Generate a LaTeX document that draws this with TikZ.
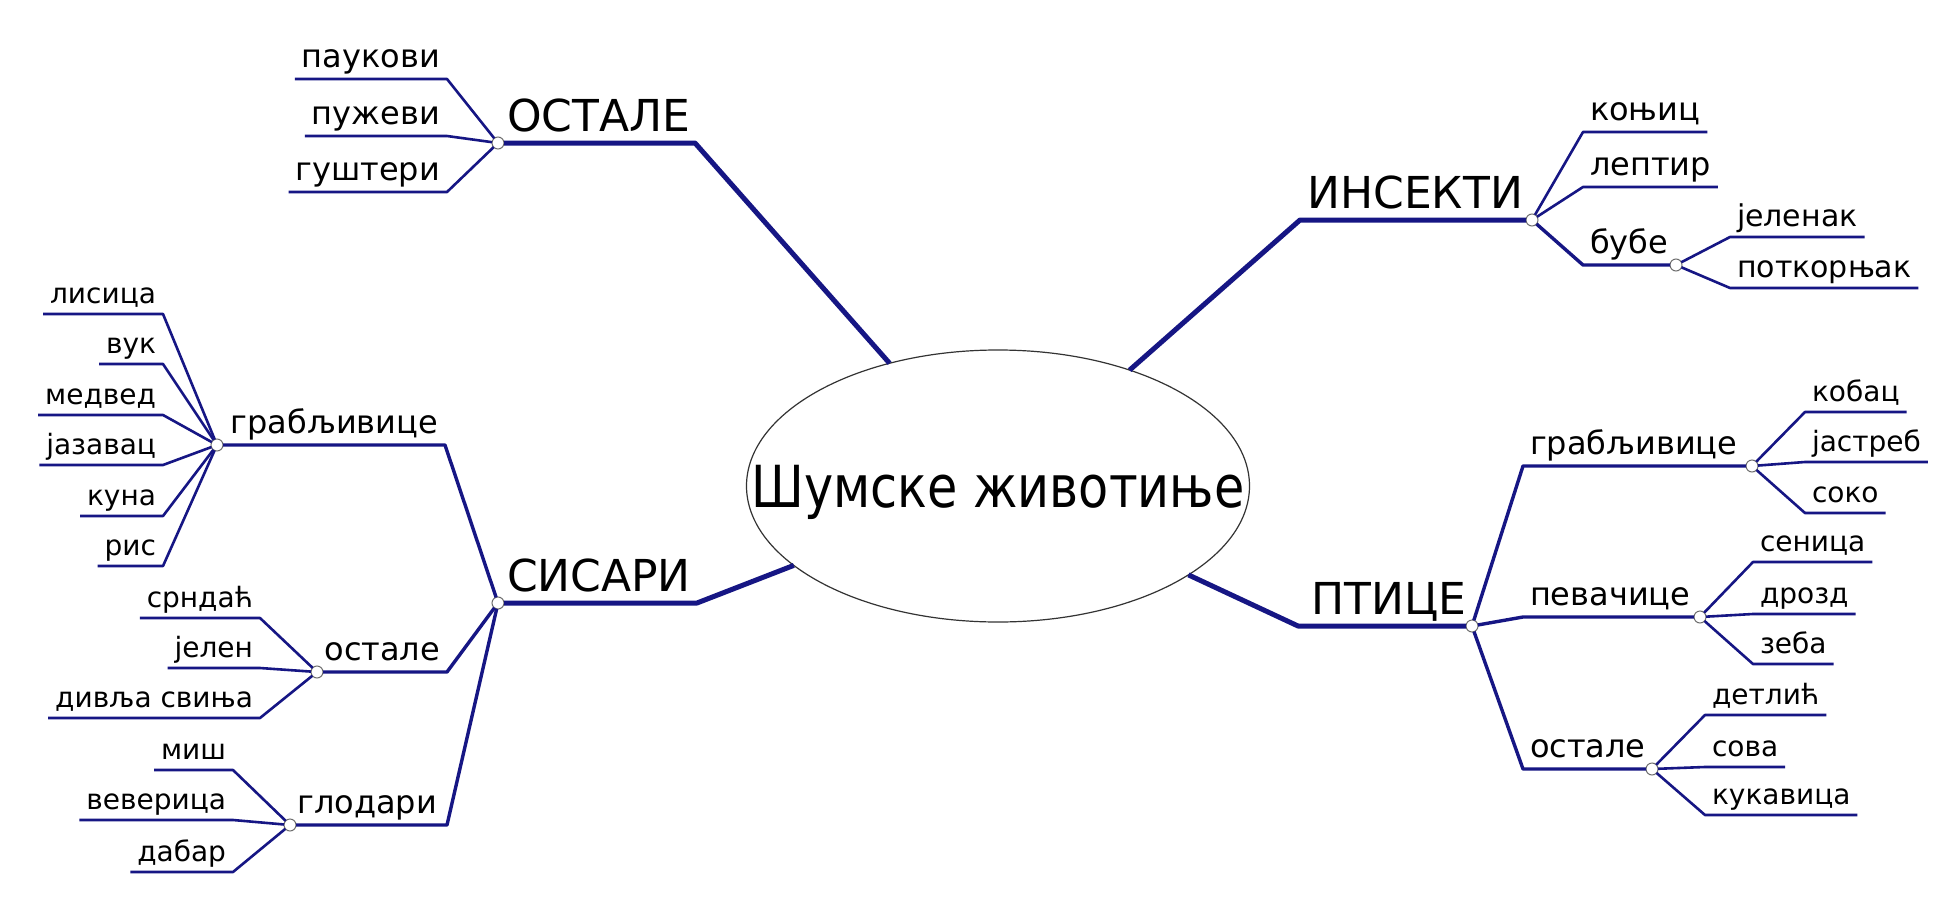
\documentclass[tikz,border=0pt]{standalone}
\usepackage{graphicx}
\usepackage{fontspec}
\setmainfont{DejaVu Sans}
\usetikzlibrary{shapes.geometric}
\definecolor{brnavy}{RGB}{22,22,132}
\definecolor{jgray}{RGB}{110,110,110}
\begin{document}
\begin{tikzpicture}[x=1pt,y=-1pt,
  mainline/.style={draw=brnavy, line width=5pt, line join=round},
  subline/.style={draw=brnavy, line width=3.4pt, line join=round},
  leafline/.style={draw=brnavy, line width=2.6pt, line join=round},
  lbl/.style={inner xsep=7pt, inner ysep=0pt, outer sep=0pt, text depth=12pt, font=\fontsize{32}{36}\selectfont},
  smlbl/.style={lbl, text depth=10.5pt, font=\fontsize{28}{32}\selectfont},
  biglbl/.style={lbl, inner xsep=9pt, font=\fontsize{44}{50}\selectfont},
  junction/.style={circle, draw=jgray, fill=white, line width=1pt, minimum size=12pt, inner sep=0pt, outer sep=0pt},
  hub/.style={ellipse, draw=black!80, fill=white, line width=1.2pt, minimum width=503pt, minimum height=272pt, inner sep=0pt, outer sep=0pt},
  hubtext/.style={inner sep=0pt, text depth=0pt}]
\fill[white] (0,0) rectangle (1960,907);
\useasboundingbox (0,0) rectangle (1960,907);

% central node
\node[hub] (hub) at (998,486) {};
\node[hubtext] (title) at (hub.center) {\scalebox{0.85}[1]{\fontsize{58}{60}\selectfont Шумске животиње}};

% corners and junctions
\coordinate (O1) at (695,143);
\node[junction] (Oc) at (498,143) {};
\coordinate (S1) at (697,603);
\node[junction] (Sc) at (498,603) {};
\coordinate (I1) at (1300,220);
\node[junction] (Ic) at (1532,220) {};
\coordinate (P1) at (1298,626);
\node[junction] (Pc) at (1472,626) {};

\coordinate (g1) at (445,445);
\node[junction] (gc) at (217,445) {};
\coordinate (o1) at (447,672);
\node[junction] (oc) at (317,672) {};
\coordinate (d1) at (447,825);
\node[junction] (dc) at (290,825) {};
\coordinate (b1) at (1583,265);
\node[junction] (bc) at (1676,265) {};
\coordinate (p1) at (1523,466);
\node[junction] (pgc) at (1752,466) {};
\coordinate (p2) at (1523,617);
\node[junction] (pvc) at (1700,617) {};
\coordinate (p3) at (1523,769);
\node[junction] (poc) at (1652,769) {};

% main labels
\node[biglbl, anchor=south west] (ostale) at (Oc) {ОСТАЛЕ};
\node[biglbl, anchor=south west] (sisari) at (Sc) {СИСАРИ};
\node[biglbl, anchor=south east] (insekti) at (Ic) {ИНСЕКТИ};
\node[biglbl, anchor=south east, inner xsep=6pt] (ptice) at (Pc) {ПТИЦЕ};

% sub labels
\node[lbl, anchor=south east] (grabL) at (g1) {грабљивице};
\node[lbl, anchor=south east] (ostL) at (o1) {остале};
\node[lbl, anchor=south east, inner xsep=10pt] (glod) at (d1) {глодари};
\node[lbl, anchor=south west] (bube) at (b1) {бубе};
\node[lbl, anchor=south west] (grabR) at (p1) {грабљивице};
\node[lbl, anchor=south west] (pev) at (p2) {певачице};
\node[lbl, anchor=south west] (ostR) at (p3) {остале};

% leaves, left side
\node[lbl, anchor=south east] (l1) at (447,79) {паукови};
\node[lbl, anchor=south east] (l2) at (447,136) {пужеви};
\node[lbl, anchor=south east] (l3) at (447,192) {гуштери};

\node[smlbl, anchor=south east] (g2) at (163,314) {лисица};
\node[smlbl, anchor=south east] (g3) at (163,364) {вук};
\node[smlbl, anchor=south east] (g4) at (163,415) {медвед};
\node[smlbl, anchor=south east] (g5) at (163,465) {јазавац};
\node[smlbl, anchor=south east] (g6) at (163,516) {куна};
\node[smlbl, anchor=south east] (g7) at (163,566) {рис};

\node[smlbl, anchor=south east] (o2) at (260,618) {срндаћ};
\node[smlbl, anchor=south east] (o3) at (260,668) {јелен};
\node[smlbl, anchor=south east] (o4) at (260,718) {дивља свиња};

\node[smlbl, anchor=south east] (d2) at (233,770) {миш};
\node[smlbl, anchor=south east] (d3) at (233,820) {веверица};
\node[smlbl, anchor=south east] (d4) at (233,872) {дабар};

% leaves, right side
\node[lbl, anchor=south west] (i2) at (1583,132) {коњиц};
\node[lbl, anchor=south west] (i3) at (1583,187) {лептир};
\node[smlbl, anchor=south west, font=\fontsize{30}{34}\selectfont] (b2) at (1730,237) {јеленак};
\node[smlbl, anchor=south west, font=\fontsize{30}{34}\selectfont] (b3) at (1730,288) {поткорњак};

\node[smlbl, anchor=south west] (r1) at (1805,412) {кобац};
\node[smlbl, anchor=south west] (r2) at (1805,462) {јастреб};
\node[smlbl, anchor=south west] (r3) at (1805,513) {соко};

\node[smlbl, anchor=south west] (v1) at (1753,562) {сеница};
\node[smlbl, anchor=south west] (v2) at (1753,614) {дрозд};
\node[smlbl, anchor=south west] (v3) at (1753,664) {зеба};

\node[smlbl, anchor=south west] (t1) at (1705,715) {детлић};
\node[smlbl, anchor=south west] (t2) at (1705,767) {сова};
\node[smlbl, anchor=south west] (t3) at (1705,815) {кукавица};

% main branches
\draw[mainline] (Oc) -- (O1) -- (hub);
\draw[mainline] (Sc) -- (S1) -- (hub);
\draw[mainline] (Ic) -- (I1) -- (hub);
\draw[mainline] (Pc) -- (P1) -- (hub);

% sub branches
\draw[subline] (gc) -- (g1) -- (Sc);
\draw[subline] (oc) -- (o1) -- (Sc);
\draw[subline] (dc) -- (d1) -- (Sc);
\draw[subline] (Ic) -- (b1) -- (bc);
\draw[subline] (Pc) -- (p1) -- (pgc);
\draw[subline] (Pc) -- (p2) -- (pvc);
\draw[subline] (Pc) -- (p3) -- (poc);

% leaf lines, left
\foreach \n/\j in {l1/Oc,l2/Oc,l3/Oc,g2/gc,g3/gc,g4/gc,g5/gc,g6/gc,g7/gc,o2/oc,o3/oc,o4/oc,d2/dc,d3/dc,d4/dc}
  \draw[leafline] (\n.south west) -- (\n.south east) -- (\j);
% leaf lines, right
\foreach \n/\j in {i2/Ic,i3/Ic,b2/bc,b3/bc,r1/pgc,r2/pgc,r3/pgc,v1/pvc,v2/pvc,v3/pvc,t1/poc,t2/poc,t3/poc}
  \draw[leafline] (\j) -- (\n.south west) -- (\n.south east);
\end{tikzpicture}
\end{document}
